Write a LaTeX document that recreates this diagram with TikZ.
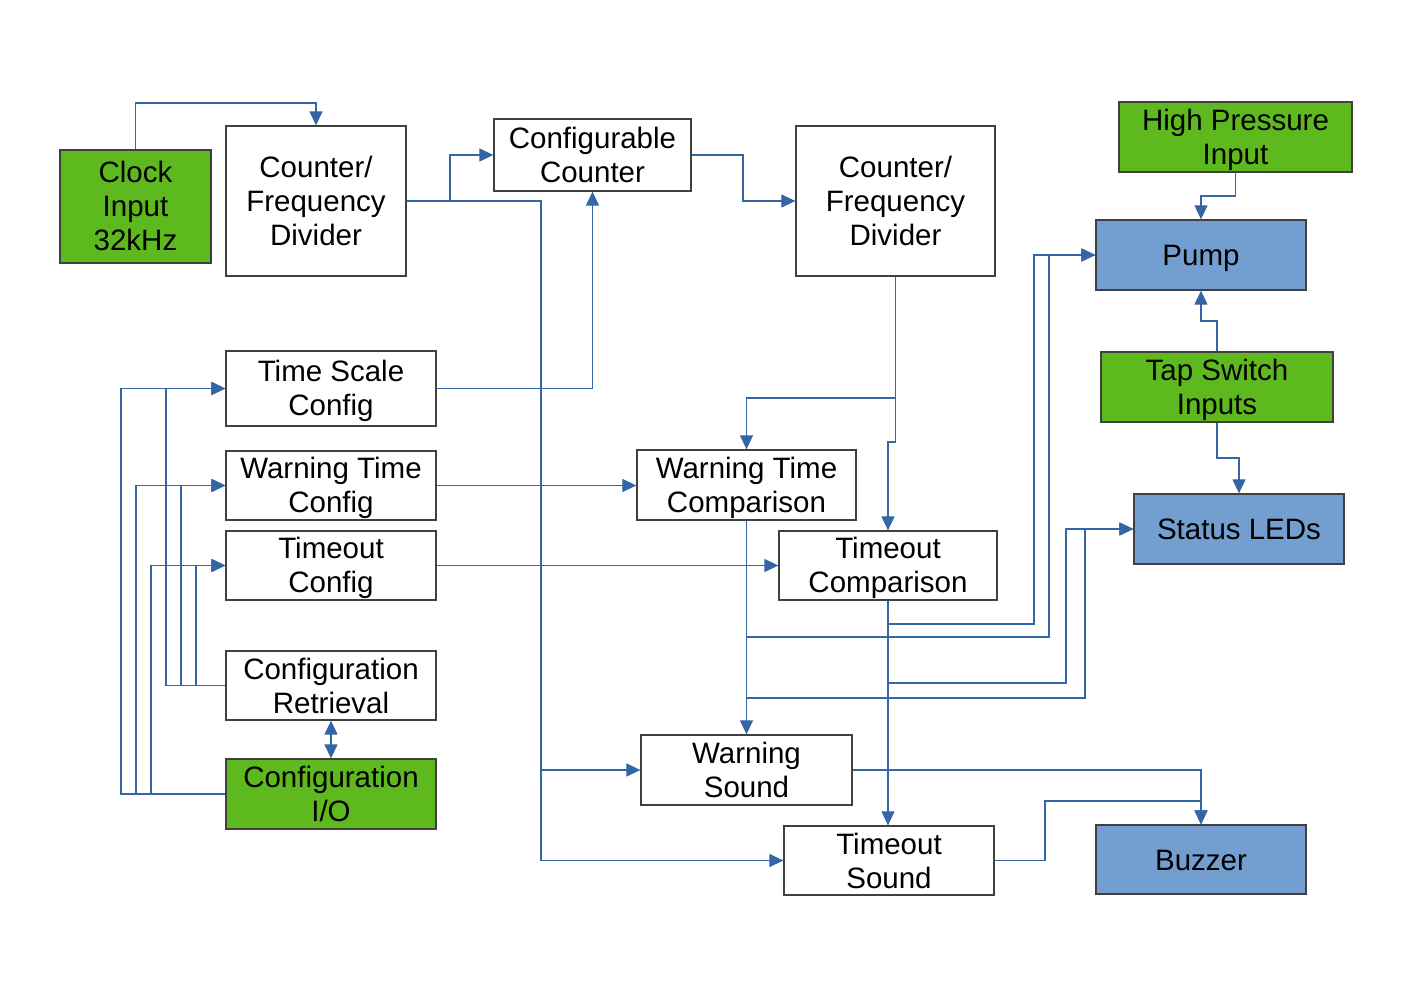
\documentclass[tikz,border=0pt]{standalone}
\usepackage{fontspec}
\setmainfont{Liberation Sans}
\usetikzlibrary{arrows.meta}
\definecolor{lnblue}{HTML}{3465A4}
\definecolor{fillgreen}{HTML}{5EB91E}
\definecolor{fillblue}{HTML}{729FCF}
\newcommand\Sx{\rule[-6pt]{0pt}{33pt}}
\tikzset{
  blk/.style={draw=black!75, line width=1.3pt, rectangle, inner sep=0pt, align=center,
    font=\fontsize{29.5}{34}\selectfont, fill=white},
  grn/.style={blk, fill=fillgreen},
  blu/.style={blk, fill=fillblue},
  arr/.style={draw=lnblue, line width=1.2pt, -{Triangle[length=14pt,width=13pt]}},
  arrtwo/.style={draw=lnblue, line width=1.2pt, {Triangle[length=14pt,width=13pt]}-{Triangle[length=14pt,width=13pt]}}
}
\begin{document}
\begin{tikzpicture}[x=1pt,y=-1pt]
\useasboundingbox (0,0) rectangle (1403,992);
% nodes
\node[grn, minimum width=151pt, minimum height=113pt] (clk) at (135.5,206.5) {\Sx Clock\\\Sx Input\\\Sx 32kHz};
\node[blk, minimum width=180pt, minimum height=150pt] (cfd1) at (316,201) {\Sx Counter/\\\Sx Frequency\\\Sx Divider};
\node[blk, minimum width=197pt, minimum height=72pt] (cc) at (592.5,155) {\Sx Configurable\\\Sx Counter};
\node[blk, minimum width=199pt, minimum height=150pt] (cfd2) at (895.5,201) {\Sx Counter/\\\Sx Frequency\\\Sx Divider};
\node[grn, minimum width=233pt, minimum height=70pt] (hp) at (1235.5,137) {\Sx High Pressure\\\Sx Input};
\node[blu, minimum width=210pt, minimum height=70pt] (pump) at (1201,255) {\Sx Pump};
\node[grn, minimum width=232pt, minimum height=70pt] (tap) at (1217,387) {\Sx Tap Switch\\\Sx Inputs};
\node[blu, minimum width=210pt, minimum height=70pt] (leds) at (1239,529) {\Sx Status LEDs};
\node[blu, minimum width=210pt, minimum height=69pt] (buzz) at (1201,859.5) {\Sx Buzzer};
\node[blk, minimum width=210pt, minimum height=75pt] (tsc) at (331,388.5) {\Sx Time Scale\\\Sx Config};
\node[blk, minimum width=210pt, minimum height=69pt] (wtc) at (331,485.5) {\Sx Warning Time\\\Sx Config};
\node[blk, minimum width=210pt, minimum height=69pt] (toc) at (331,565.5) {\Sx Timeout\\\Sx Config};
\node[blk, minimum width=210pt, minimum height=69pt] (cr) at (331,685.5) {\Sx Configuration\\\Sx Retrieval};
\node[grn, minimum width=210pt, minimum height=70pt] (cio) at (331,794) {\Sx Configuration\\\Sx I/O};
\node[blk, minimum width=219pt, minimum height=70pt] (wtcmp) at (746.5,485) {\Sx Warning Time\\\Sx Comparison};
\node[blk, minimum width=218pt, minimum height=69pt] (tocmp) at (888,565.5) {\Sx Timeout\\\Sx Comparison};
\node[blk, minimum width=211pt, minimum height=70pt] (ws) at (746.5,770) {\Sx Warning\\\Sx Sound};
\node[blk, minimum width=210pt, minimum height=69pt] (ts) at (889,860.5) {\Sx Timeout\\\Sx Sound};
% connectors
\draw[arr] (clk.north) |- (316,103) -- (cfd1.north);
\draw[arr] (cfd1.east) -- (450,201) |- (cc.west);
\draw[arr] (cfd1.east) -| (541,860.5) -- (ts.west);
\draw[arr] (cfd1.east) -| (541,770) -- (ws.west);
\draw[arr] (cc.east) -- (743,155) |- (cfd2.west);
\draw[arr] (tsc.east) -| (cc.south);
\draw[arr] (cfd2.south) -- (895.5,398) -| (wtcmp.north);
\draw[arr] (cfd2.south) -- (895.5,442) -| (tocmp.north);
\draw[arr] (wtc.east) -- (wtcmp.west |- wtc.east);
\draw[arr] (toc.east) -- (tocmp.west |- toc.east);
\draw[arr] (wtcmp.south) -- (ws.north);
\draw[arr] (tocmp.south) -- (tocmp.south |- ts.north);
\draw[arr] (tocmp.south) -- (888,624) -| (1034,255) -- (pump.west);
\draw[arr] (wtcmp.south) -- (746.5,637) -| (1049,255) -- (pump.west);
\draw[arr] (tocmp.south) -- (888,683) -| (1066,529) -- (leds.west);
\draw[arr] (wtcmp.south) -- (746.5,698) -| (1085,529) -- (leds.west);
\draw[arr] (hp.south) -- (1235.5,196) -| (pump.north);
\draw[arr] (tap.north) -- (1217,321) -| (pump.south);
\draw[arr] (tap.south) -- (1217,458) -| (leds.north);
\draw[arr] (ws.east) -| (buzz.north);
\draw[arr] (ts.east) -- (1045,860.5) |- (1201,801) -- (buzz.north);
\draw[arrtwo] (cr.south) -- (cio.north);
\draw[arr] (cio.west) -| (121,388.5) -- (tsc.west);
\draw[arr] (cio.west) -| (136,485.5) -- (wtc.west);
\draw[arr] (cio.west) -| (151,565.5) -- (toc.west);
\draw[arr] (cr.west) -| (166,388.5) -- (tsc.west);
\draw[arr] (cr.west) -| (181,485.5) -- (wtc.west);
\draw[arr] (cr.west) -| (196,565.5) -- (toc.west);
\end{tikzpicture}
\end{document}
